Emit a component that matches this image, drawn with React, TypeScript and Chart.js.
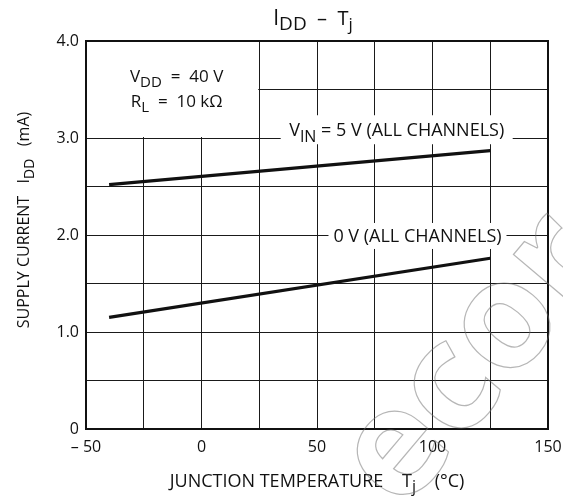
import React, { useEffect, useRef } from "react";
import { Chart, registerables } from "chart.js";

Chart.register(...registerables);

// ---- data ----
const temps: number[] = [-40, 125];
const idd5V: number[] = [2.52, 2.87];
const idd0V: number[] = [1.15, 1.76];

const xTickLabels: Record<number, string> = { [-50]: "\u2013 50", 0: "0", 50: "50", 100: "100", 150: "150" };
const yTickLabels: Record<number, string> = { 0: "0", 1: "1.0", 2: "2.0", 3: "3.0", 4: "4.0" };

const FONT = "'Open Sans', 'DejaVu Sans', sans-serif";
const INK = "#111";

type Part = { t: string; sub?: boolean; size?: number };

function partSize(p: Part, size: number) {
  return p.size ?? (p.sub ? Math.round(size * 0.88) : size);
}

function richWidth(ctx: CanvasRenderingContext2D, parts: Part[], size: number) {
  let w = 0;
  for (const p of parts) {
    ctx.font = `${partSize(p, size)}px ${FONT}`;
    w += ctx.measureText(p.t).width;
  }
  return w;
}

function drawRich(ctx: CanvasRenderingContext2D, parts: Part[], x: number, y: number, size: number, align: "left" | "center") {
  const w = richWidth(ctx, parts, size);
  let cx = align === "center" ? x - w / 2 : x;
  ctx.textAlign = "left";
  ctx.textBaseline = "alphabetic";
  for (const p of parts) {
    const s = partSize(p, size);
    ctx.font = `${s}px ${FONT}`;
    ctx.fillText(p.t, cx, y + (p.sub ? size * 0.3 : 0));
    cx += ctx.measureText(p.t).width;
  }
}

const annotationPlugin = {
  id: "annotations",
  beforeDatasetsDraw(chart: any) {
    const ctx: CanvasRenderingContext2D = chart.ctx;
    const xs = chart.scales.x;
    const ys = chart.scales.y;
    ctx.save();
    // conditions box (covers grid in -50..25, 3..4)
    const bx0 = xs.getPixelForValue(-50);
    const bx1 = xs.getPixelForValue(25);
    const by0 = ys.getPixelForValue(4);
    const by1 = ys.getPixelForValue(3);
    ctx.fillStyle = "#fff";
    ctx.fillRect(bx0 + 1, by0 + 1, bx1 - bx0 - 2, by1 - by0 - 2);
    // label backgrounds
    const l1x = xs.getPixelForValue(84.5);
    const l1y = ys.getPixelForValue(3.08);
    ctx.fillRect(l1x - 116, l1y - 15, 232, 29);
    const l2x = xs.getPixelForValue(93.5);
    const l2y = ys.getPixelForValue(1.99);
    ctx.fillRect(l2x - 89, l2y - 13, 178, 26);

    ctx.fillStyle = INK;
    const cx = (bx0 + bx1) / 2 + 4;
    drawRich(ctx, [{ t: "V" }, { t: "DD", sub: true }, { t: "  =  40 V" }], cx, by0 + 41, 17, "center");
    drawRich(ctx, [{ t: "R" }, { t: "L", sub: true }, { t: "  =  10 k\u03A9" }], cx, by0 + 66, 17, "center");

    drawRich(ctx, [{ t: "V" }, { t: "IN", sub: true, size: 16 }, { t: " = 5 V (ALL CHANNELS)" }], l1x, l1y + 6, 18, "center");
    drawRich(ctx, [{ t: "0 V (ALL CHANNELS)" }], l2x, l2y + 6, 18, "center");
    ctx.restore();
  },
  afterDraw(chart: any) {
    const ctx: CanvasRenderingContext2D = chart.ctx;
    const a = chart.chartArea;
    ctx.save();
    // frame
    ctx.strokeStyle = INK;
    ctx.lineWidth = 2;
    ctx.strokeRect(a.left, a.top, a.right - a.left, a.bottom - a.top);

    ctx.fillStyle = INK;
    // title
    const tParts: Part[] = [
      { t: "I", size: 21 },
      { t: "DD", sub: true, size: 19 },
      { t: "  \u2013  ", size: 20 },
      { t: "T", size: 20 },
      { t: "j", sub: true, size: 17 },
    ];
    drawRich(ctx, tParts, 313, 25, 15, "center");

    // x title
    drawRich(ctx, [{ t: "JUNCTION TEMPERATURE    T" }, { t: "j", sub: true, size: 16 }, { t: "    (\u00B0C)" }], 317, 487, 18, "center");

    // y title
    ctx.translate(29, 220);
    ctx.rotate(-Math.PI / 2);
    drawRich(ctx, [{ t: "SUPPLY CURRENT   I" }, { t: "DD", sub: true }, { t: "   (mA)" }], 0, 0, 16, "center");
    ctx.restore();

    // watermark
    ctx.save();
    ctx.translate(398, 452);
    ctx.rotate(-0.87);
    ctx.font = `bold 150px ${FONT}`;
    ctx.textBaseline = "middle";
    ctx.textAlign = "left";
    ctx.strokeStyle = "rgba(110,110,110,0.5)";
    ctx.lineWidth = 1.2;
    ctx.strokeText("ecor", -45, 0);
    ctx.restore();
  },
};

export default function App() {
  const ref = useRef<HTMLCanvasElement | null>(null);
  useEffect(() => {
    if (!ref.current) return;
    const chart = new Chart(ref.current, {
      type: "line",
      data: {
        datasets: [
          {
            label: "VIN = 5 V",
            data: temps.map((t, i) => ({ x: t, y: idd5V[i] })),
            borderColor: INK,
            borderWidth: 3.2,
            pointRadius: 0,
            fill: false,
          },
          {
            label: "0 V",
            data: temps.map((t, i) => ({ x: t, y: idd0V[i] })),
            borderColor: INK,
            borderWidth: 3.2,
            pointRadius: 0,
            fill: false,
          },
        ],
      },
      options: {
        animation: false,
        responsive: false,
        devicePixelRatio: 1,
        layout: { padding: { left: 0, right: 15, top: 41, bottom: 0 } },
        plugins: { legend: { display: false }, tooltip: { enabled: false }, title: { display: false } },
        scales: {
          x: {
            type: "linear",
            min: -50,
            max: 150,
            grid: { color: "#1a1a1a", lineWidth: 1, drawTicks: false },
            border: { display: false },
            ticks: {
              stepSize: 25,
              autoSkip: false,
              maxRotation: 0,
              padding: 9,
              color: INK,
              font: { family: FONT, size: 16 },
              callback: (v: any) => (xTickLabels[v as number] ?? ""),
            },
            afterFit: (s: any) => {
              s.height = 68;
              s.paddingLeft = 0;
              s.paddingRight = 0;
            },
          },
          y: {
            type: "linear",
            min: 0,
            max: 4,
            grid: { color: "#1a1a1a", lineWidth: 1, drawTicks: false },
            border: { display: false },
            ticks: {
              stepSize: 0.5,
              autoSkip: false,
              padding: 7,
              color: INK,
              font: { family: FONT, size: 16 },
              callback: (v: any) => (yTickLabels[v as number] ?? ""),
            },
            afterFit: (s: any) => {
              s.width = 86;
              s.paddingTop = 0;
              s.paddingBottom = 0;
            },
          },
        },
      },
      plugins: [annotationPlugin],
    });
    return () => chart.destroy();
  }, []);
  return (
    <div style={{ position: "fixed", left: 0, top: 0, width: 563, height: 497, background: "#fff" }}>
      <canvas ref={ref} width={563} height={497} />
    </div>
  );
}
